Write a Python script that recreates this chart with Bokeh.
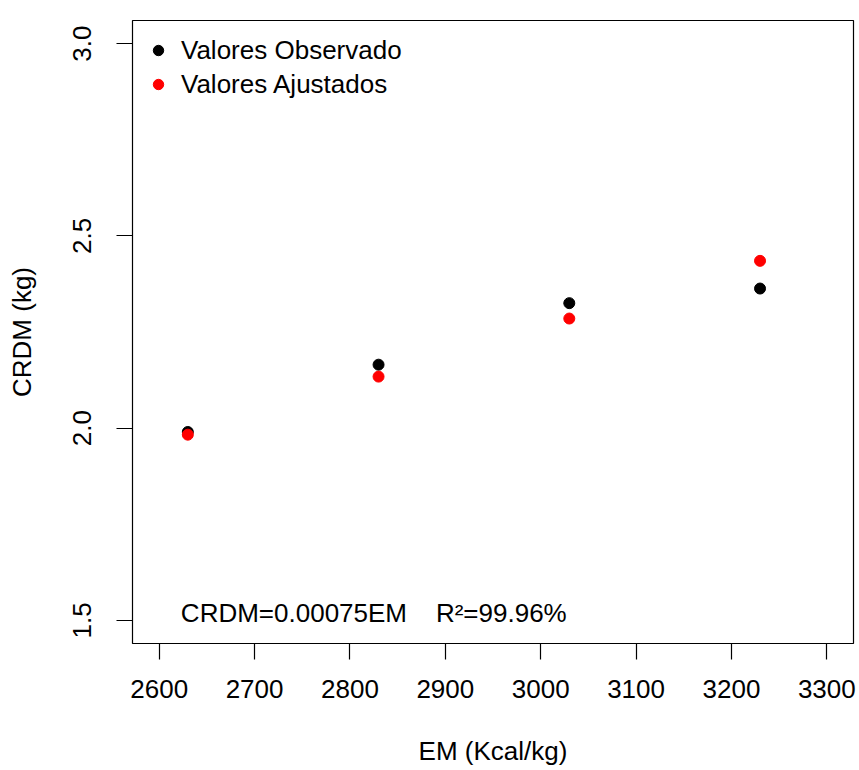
from bokeh.plotting import figure
from bokeh.models import Legend, LegendItem, Label, Range1d, FixedTicker, NumeralTickFormatter
from bokeh.embed import file_html
from bokeh.resources import INLINE

# ---- data ----
em = [2630, 2830, 3030, 3230]
crdm_observado = [1.99, 2.165, 2.325, 2.363]
crdm_ajustado = [1.983, 2.134, 2.285, 2.435]
x_ticks = [2600, 2700, 2800, 2900, 3000, 3100, 3200, 3300]
y_ticks = [1.5, 2.0, 2.5, 3.0]
series_labels = ["Valores Observado", "Valores Ajustados"]
equation_text = "CRDM=0.00075EM\u00a0\u00a0\u00a0\u00a0R²=99.96%"
x_title = "EM (Kcal/kg)"
y_title = "CRDM (kg)"

FONT = "Liberation Sans"
FS = "26px"

p = figure(width=859, height=770, output_backend="svg", toolbar_location=None,
           x_range=Range1d(2572, 3328), y_range=Range1d(1.44, 3.06),
           min_border_left=132, min_border_right=6, min_border_top=20, min_border_bottom=127)

p.grid.visible = False
p.outline_line_color = "black"
p.outline_line_width = 1.2
p.background_fill_color = "white"
p.border_fill_color = "white"

obs = p.scatter(em, crdm_observado, size=11, color="black")
fit = p.scatter(em, crdm_ajustado, size=11, color="#FF0000")

for ax in (p.xaxis[0], p.yaxis[0]):
    ax.axis_line_color = None
    ax.major_tick_line_color = "black"
    ax.major_tick_line_width = 1.2
    ax.major_tick_out = 16
    ax.major_tick_in = 0
    ax.minor_tick_line_color = None
    ax.major_label_text_font = FONT
    ax.major_label_text_font_size = FS
    ax.major_label_text_color = "black"
    ax.axis_label_text_font = FONT
    ax.axis_label_text_font_size = FS
    ax.axis_label_text_font_style = "normal"
    ax.axis_label_text_color = "black"

p.xaxis[0].major_label_standoff = 20
p.xaxis[0].axis_label_standoff = 35
p.yaxis[0].major_label_standoff = 25
p.yaxis[0].axis_label_standoff = 34

p.xaxis[0].ticker = FixedTicker(ticks=x_ticks)
p.yaxis[0].ticker = FixedTicker(ticks=y_ticks)
p.yaxis[0].formatter = NumeralTickFormatter(format="0.0")
p.yaxis[0].major_label_orientation = "vertical"
p.xaxis[0].axis_label = x_title
p.yaxis[0].axis_label = y_title

legend = Legend(items=[LegendItem(label=series_labels[0], renderers=[obs]),
                       LegendItem(label=series_labels[1], renderers=[fit])],
                location="top_left", margin=13, padding=0, spacing=0,
                glyph_width=26, glyph_height=34, label_height=34,
                label_standoff=10, label_text_font=FONT, label_text_font_size=FS,
                label_text_color="black",
                background_fill_color=None, border_line_color=None)
p.add_layout(legend)

p.add_layout(Label(x=2825, y=1.52, text=equation_text, text_align="center",
                   text_baseline="middle", text_font=FONT, text_font_size=FS,
                   text_color="black"))

open("out.html", "w").write(file_html(p, INLINE))
